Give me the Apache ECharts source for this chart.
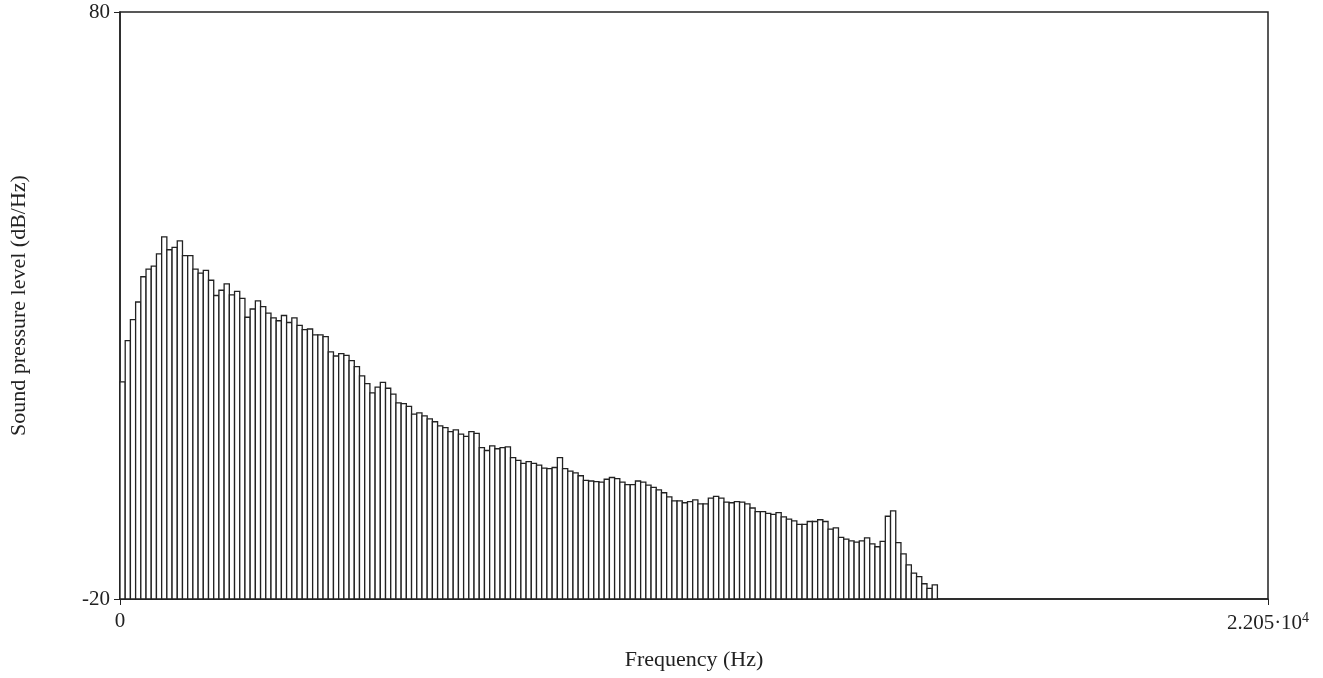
<!DOCTYPE html>
<html><head><meta charset="utf-8">
<script src="https://cdn.jsdelivr.net/npm/echarts@6/dist/echarts.min.js"></script>
<style>html,body{margin:0;padding:0;background:#fff}#c{width:1323px;height:678px}</style>
</head><body><div id="c"></div>
<script>
const binWidth = 100;
const levels = [17.0,24.0,27.6,30.6,34.9,36.2,36.7,38.8,41.7,39.5,39.9,41.0,38.5,38.5,36.2,35.5,36.0,34.3,31.7,32.6,
33.7,31.8,32.4,31.2,28.0,29.4,30.8,29.8,28.7,27.9,27.4,28.3,27.1,27.9,26.6,25.9,26.0,25.0,25.0,24.7,
22.1,21.4,21.8,21.5,20.6,19.6,18.0,16.7,15.1,16.1,16.9,15.9,14.9,13.4,13.3,12.8,11.5,11.7,11.2,10.7,
10.2,9.5,9.2,8.5,8.8,8.1,7.7,8.5,8.2,5.8,5.3,6.1,5.6,5.8,5.9,4.1,3.6,3.1,3.4,3.1,
2.8,2.3,2.2,2.4,4.1,2.2,1.8,1.5,1.0,0.2,0.1,0.0,-0.1,0.4,0.7,0.5,-0.1,-0.5,-0.5,0.1,
-0.1,-0.6,-1.0,-1.4,-1.9,-2.6,-3.3,-3.3,-3.6,-3.4,-3.1,-3.8,-3.8,-2.8,-2.5,-2.8,-3.5,-3.6,-3.4,-3.5,
-3.8,-4.5,-5.1,-5.1,-5.4,-5.6,-5.3,-6.0,-6.4,-6.7,-7.3,-7.3,-6.8,-6.8,-6.5,-6.8,-8.1,-7.9,-9.5,-9.8,
-10.1,-10.3,-10.1,-9.6,-10.6,-11.1,-10.2,-5.9,-5.0,-10.4,-12.3,-14.2,-15.6,-16.2,-17.4,-18.2,-17.6];
const xTicks = [0, 22050];
const yTicks = [-20, 80];
const data = levels.map((v,i)=>[i*binWidth,(i+1)*binWidth,v]);
const font = 'Liberation Serif';
const chart = echarts.init(document.getElementById('c'));
chart.setOption({
  animation:false,
  grid:{left:117,top:12,right:55,bottom:79,show:true,borderColor:'#222',borderWidth:1.5},
  xAxis:{type:'value',min:0,max:22050,
    name:'Frequency (Hz)',nameLocation:'middle',nameGap:50,
    nameTextStyle:{fontFamily:font,fontSize:22,color:'#222'},
    axisLine:{show:true,onZero:false,lineStyle:{color:'#222',width:1.5}},
    splitLine:{show:false},
    axisTick:{show:true,customValues:xTicks,length:6,lineStyle:{color:'#222'}},
    axisLabel:{customValues:xTicks,fontFamily:font,fontSize:21,color:'#222',margin:12,
      formatter:v=>v===0?'0':'2.205·10{s|4}',
      rich:{s:{fontFamily:font,fontSize:14,verticalAlign:'top',padding:[0,0,10,0],color:'#222'}}}},
  yAxis:{type:'value',min:-20,max:80,
    name:'Sound pressure level (dB/Hz)',nameLocation:'middle',nameGap:90,
    nameTextStyle:{fontFamily:font,fontSize:22,color:'#222'},
    axisLine:{show:true,lineStyle:{color:'#222',width:1.5}},
    splitLine:{show:false},
    axisTick:{show:true,customValues:yTicks,length:6,lineStyle:{color:'#222'}},
    axisLabel:{customValues:yTicks,fontFamily:font,fontSize:21,color:'#222',margin:10}},
  series:[{type:'custom',data:data,encode:{x:[0,1],y:2},
    renderItem:(params,api)=>{
      const p0=api.coord([api.value(0),api.value(2)]);
      const p1=api.coord([api.value(1),-20]);
      return {type:'rect',shape:{x:p0[0],y:p0[1],width:p1[0]-p0[0],height:p1[1]-p0[1]},
        style:{fill:'#fff',stroke:'#222',lineWidth:1.3}};
    }}]
});
</script></body></html>
